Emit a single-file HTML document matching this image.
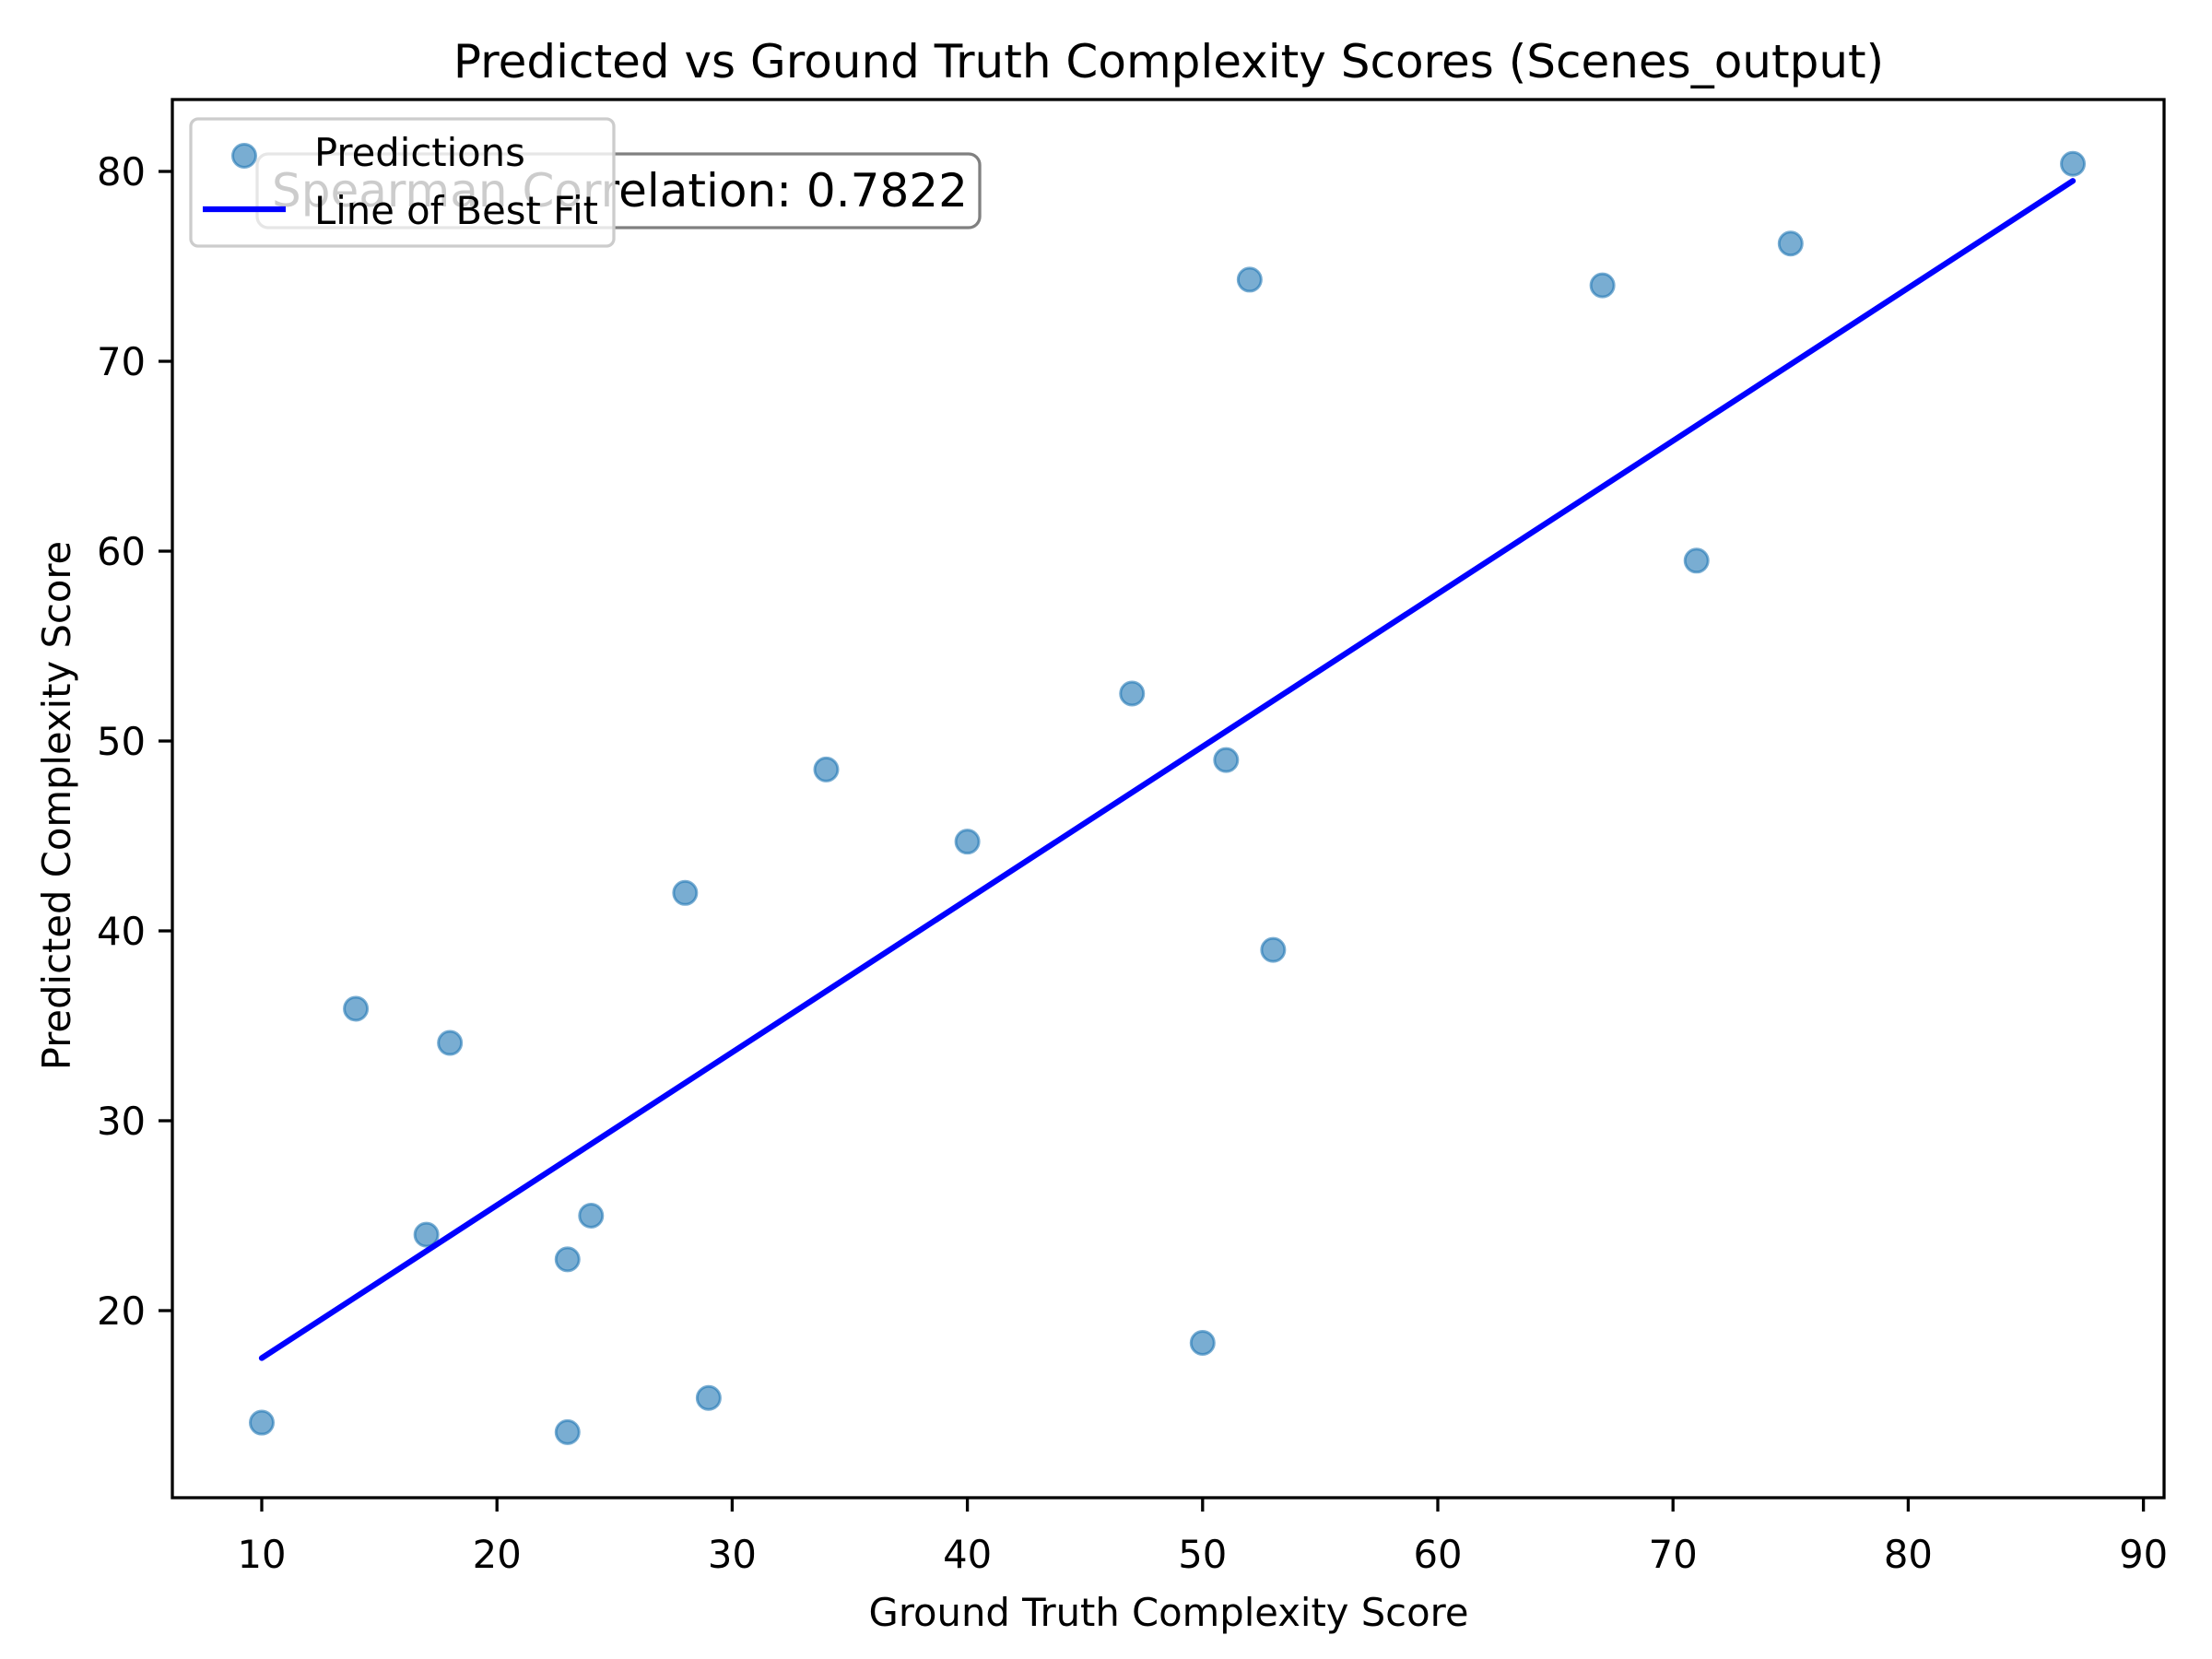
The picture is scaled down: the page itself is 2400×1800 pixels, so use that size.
<!DOCTYPE html>
<html><head><meta charset="utf-8"><style>
html,body{margin:0;padding:0;background:#fff}
svg{display:block;font-family:"DejaVu Sans","Liberation Sans",sans-serif}
</style></head><body>
<svg id="chart" width="2400" height="1800" viewBox="0 0 2400 1800" xmlns="http://www.w3.org/2000/svg">
<rect width="2400" height="1800" fill="#fff"/>
<text x="1268" y="84" font-size="50" text-anchor="middle">Predicted vs Ground Truth Complexity Scores (Scenes_output)</text>
<g id="xticks"></g>
<g id="yticks"></g>
<text x="1268" y="1764" font-size="41.7" text-anchor="middle">Ground Truth Complexity Score</text>
<text transform="translate(76,874) rotate(-90)" font-size="41.7" text-anchor="middle">Predicted Complexity Score</text>
<g id="points"></g>
<g id="fit"></g>
<rect x="187" y="108" width="2161" height="1517" fill="none" stroke="#000" stroke-width="3.3"/>
<g>
<rect x="279" y="167" width="784" height="80" rx="12" fill="#fff" fill-opacity="0.5" stroke="#808080" stroke-width="3.3"/>
<text x="295" y="224" font-size="50">Spearman Correlation: 0.7822</text>
</g>
<g>
<rect x="207" y="129" width="459" height="138" rx="8" fill="#fff" fill-opacity="0.8" stroke="#ccc" stroke-width="3.3"/>
<circle cx="265" cy="169" r="12.5" fill="#1f77b4" fill-opacity="0.6" stroke="#1f77b4" stroke-opacity="0.6" stroke-width="3"/>
<text x="341" y="180" font-size="41.7">Predictions</text>
<line x1="220" y1="227" x2="310" y2="227" stroke="#0000ff" stroke-width="6.25"/>
<text x="341" y="243" font-size="41.7">Line of Best Fit</text>
</g>
</svg>
<script>
const xs = [10,14,17,18,23,23,24,28,29,34,40,47,50,51,52,53,67,71,75,87];
const ys = [14.1,35.9,24,34.1,22.7,13.6,25,42,15.4,48.5,44.7,52.5,18.3,49,74.3,39,74,59.5,76.2,80.4];
const fitX = [10,87];
const fitY = [17.5,79.5];
const xTicks = [10,20,30,40,50,60,70,80,90];
const yTicks = [20,30,40,50,60,70,80];
const NS='http://www.w3.org/2000/svg';
function X(v){return 284+(v-10)*25.52;}
function Y(v){return 186+(80-v)*20.6;}
function mk(t,a){const e=document.createElementNS(NS,t);for(const k in a)e.setAttribute(k,a[k]);return e;}
const gx=document.getElementById('xticks');
xTicks.forEach(v=>{
  const l=mk('line',{x1:X(v),x2:X(v),y1:1625,y2:1640,stroke:'#000','stroke-width':3.3});
  
  
  gx.appendChild(l);
  const t=mk('text',{x:X(v),y:1701,'font-size':41.7,'text-anchor':'middle'});
  
  
  t.textContent=v;gx.appendChild(t);
});
const gy=document.getElementById('yticks');
yTicks.forEach(v=>{
  const l=mk('line',{x1:172,x2:187,y1:Y(v),y2:Y(v),stroke:'#000','stroke-width':3.3});
  
  
  gy.appendChild(l);
  const t=mk('text',{x:158,y:Y(v)+15,'font-size':41.7,'text-anchor':'end'});
  
  
  t.textContent=v;gy.appendChild(t);
});
const gp=document.getElementById('points');
xs.forEach((v,i)=>{
  const c=mk('circle',{cx:X(v),cy:Y(ys[i]),r:12.5,fill:'#1f77b4','fill-opacity':0.6,stroke:'#1f77b4','stroke-opacity':0.6,'stroke-width':3});
  
  
  gp.appendChild(c);
});
const fl=mk('line',{x1:X(fitX[0]),y1:Y(fitY[0]),x2:X(fitX[1]),y2:Y(fitY[1]),stroke:'#0000ff','stroke-width':6.25,'stroke-linecap':'round'});


document.getElementById('fit').appendChild(fl);
</script>
</body></html>
